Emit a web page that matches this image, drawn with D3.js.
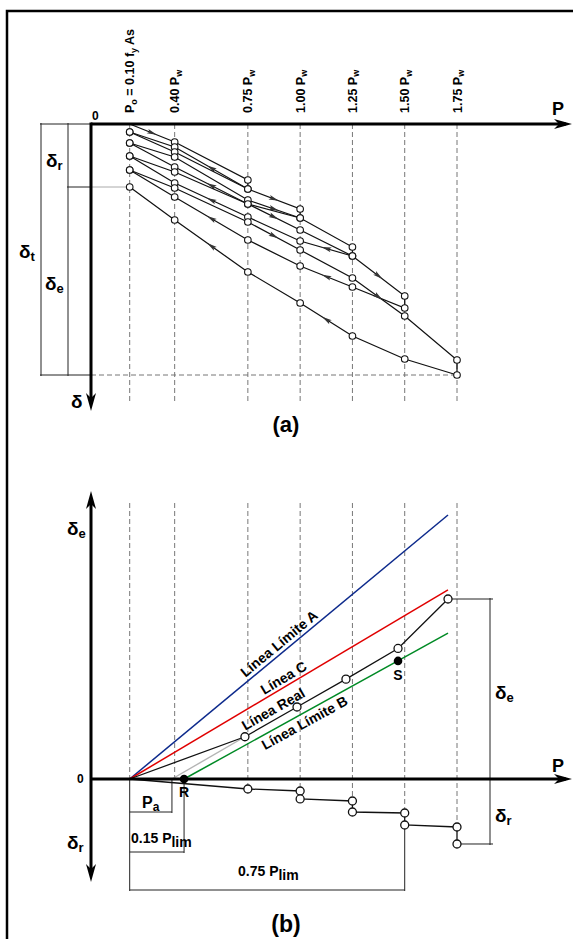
<!DOCTYPE html>
<html><head><meta charset="utf-8">
<script src="https://cdn.jsdelivr.net/npm/d3@7"></script>
<style>
html,body{margin:0;padding:0;background:#fff;}
svg{display:block;font-family:"Liberation Sans",Arial,Helvetica,sans-serif;font-weight:bold;}
</style></head><body>
<svg id="fig" width="573" height="939"></svg>
<script>
// Load steps as a fraction of the working load Pw (first step is the seating load P0)
const loadLevels = [0.185, 0.40, 0.75, 1.00, 1.25, 1.50, 1.75];
const loadLabels = ["P_o = 0.10 f_y As", "0.40 P_w", "0.75 P_w", "1.00 P_w", "1.25 P_w", "1.50 P_w", "1.75 P_w"];

// (a) load-unload cycles: applied load and measured deflection (mm)
const cycle1Load = [0.185, 0.40, 0.75, 0.75, 0.40, 0.185];
const cycle1Defl = [0, 1.8, 5.6, 6.5, 2.3, 0.8];
const cycle1Arrows = [0, 3];

const cycle2Load = [0.185, 0.40, 0.75, 1.00, 1.00, 0.75, 0.40, 0.185];
const cycle2Defl = [0.8, 2.8, 6.5, 8.5, 9.4, 8.0, 4.3, 1.9];
const cycle2Arrows = [2, 5];

const cycle3Load = [0.185, 0.40, 0.75, 1.00, 1.25, 1.25, 1.00, 0.75, 0.40, 0.185];
const cycle3Defl = [1.9, 3.3, 7.6, 9.4, 12.3, 13.2, 11.7, 9.3, 5.9, 3.2];
const cycle3Arrows = [2, 5, 7];

const cycle4Load = [0.185, 0.40, 0.75, 1.00, 1.25, 1.50, 1.50, 1.25, 1.00, 0.75, 0.40, 0.185];
const cycle4Defl = [3.2, 4.8, 8.0, 10.6, 13.2, 17.2, 18.4, 16.3, 14.2, 11.6, 7.3, 4.6];
const cycle4Arrows = [2, 4, 7, 9];

const cycle5Load = [0.185, 0.40, 0.75, 1.00, 1.25, 1.50, 1.75, 1.75, 1.50, 1.25, 1.00, 0.75, 0.40, 0.185];
const cycle5Defl = [4.6, 6.4, 9.8, 12.6, 15.4, 19.2, 23.6, 25.1, 23.5, 21.2, 17.9, 14.8, 9.6, 6.3];
const cycle5Arrows = [2, 4, 9, 11];

// (b) elastic recovery (up) and residual settlement (down) versus load
const realLoad = [0.185, 0.736, 0.985, 1.219, 1.468, 1.707];
const realElastic = [0, 4.4, 7.5, 10.4, 13.6, 18.75];
const residualLoad = [0.185, 0.75, 1.00, 1.00, 1.25, 1.25, 1.50, 1.50, 1.75, 1.75];
const residualDefl = [0, 1.04, 1.25, 2.08, 2.29, 3.44, 3.54, 4.79, 5.0, 6.77];

const limitALoad = [0.185, 1.707], limitADefl = [0, 27.5];
const lineCLoad = [0.185, 1.707], lineCDefl = [0, 19.7];
const limitBLoad = [0.445, 1.707], limitBDefl = [0, 15.2];
const guideLoad = [0.387, 0.736], guideDefl = [0, 4.4];
const pointR = [0.445, 0];
const pointS = [1.468, 12.3];
const paLoad = 0.387, plim15Load = 0.445, plim75Load = 1.50;

const svg = d3.select("#fig");
const xS = d3.scaleLinear().domain([0, 1.75]).range([91, 457]);
const yA = d3.scaleLinear().domain([0, 25.1]).range([124, 375]);
const yB = d3.scaleLinear().domain([0, 10]).range([779, 683]);

const axisX = xS(0);
const line = d3.line();

// text with "_x" subscripts
function rich(sel, str, size, subSize, shift) {
  const parts = str.split(/_(\w+)/);
  sel.attr("font-size", size);
  let down = false;
  parts.forEach((p, i) => {
    if (p === "") { return; }
    const t = sel.append("tspan").text(p);
    if (i % 2 === 1) {
      t.attr("font-size", subSize).attr("dy", down ? 0 : shift);
      down = true;
    } else {
      if (down) t.attr("dy", -shift);
      down = false;
    }
  });
  return sel;
}
function label(g, x, y, str, size, subSize, shift, anchor) {
  const t = g.append("text").attr("x", x).attr("y", y).attr("text-anchor", anchor || "start");
  return rich(t, str, size, subSize, shift);
}
function axisHead(g, x, y, angle) {
  g.append("path").attr("d", "M0,0 L-18,-5 L-13,0 L-18,5 Z")
    .attr("transform", `translate(${x},${y}) rotate(${angle})`).attr("fill", "#000");
}
function segArrow(g, x1, y1, x2, y2) {
  const a = Math.atan2(y2 - y1, x2 - x1) * 180 / Math.PI;
  g.append("path").attr("d", "M5,0 L-5,-2.4 L-3,0 L-5,2.4 Z")
    .attr("transform", `translate(${(x1 + x2) / 2},${(y1 + y2) / 2}) rotate(${a})`)
    .attr("fill", "#333");
}
function seg(g, x1, y1, x2, y2, color, w, dash) {
  const l = g.append("line").attr("x1", x1).attr("y1", y1).attr("x2", x2).attr("y2", y2)
    .attr("stroke", color).attr("stroke-width", w);
  if (dash) l.attr("stroke-dasharray", dash);
  return l;
}

// frame
svg.append("rect").attr("x", 7).attr("y", 11).attr("width", 700).attr("height", 1000)
  .attr("fill", "none").attr("stroke", "#000").attr("stroke-width", 2.5);

// ---------------- (a) ----------------
const gA = svg.append("g");
const dMax = d3.max(cycle5Defl);
const dRes = cycle5Defl[cycle5Defl.length - 1];

loadLevels.forEach(p => seg(gA, xS(p), yA(0), xS(p), 402, "#777", 1, "5,3"));
seg(gA, axisX, yA(dMax), xS(1.75), yA(dMax), "#777", 1, "5,3");

// dimension lines for total, residual and elastic settlement
seg(gA, 40, yA(0), axisX, yA(0), "#222", 1);
seg(gA, 40, yA(dMax), axisX, yA(dMax), "#222", 1);
seg(gA, 67, yA(dRes), axisX, yA(dRes), "#222", 1);
seg(gA, axisX, yA(dRes), xS(loadLevels[0]), yA(dRes), "#aaa", 1);
seg(gA, 41, yA(0) - 1, 41, yA(dMax) + 1, "#222", 1);
seg(gA, 68, yA(0) - 1, 68, yA(dMax) + 1, "#222", 1);

const cycles = [
  [cycle1Load, cycle1Defl, cycle1Arrows],
  [cycle2Load, cycle2Defl, cycle2Arrows],
  [cycle3Load, cycle3Defl, cycle3Arrows],
  [cycle4Load, cycle4Defl, cycle4Arrows],
  [cycle5Load, cycle5Defl, cycle5Arrows]
];
cycles.forEach(([L, D, A]) => {
  const pts = L.map((p, i) => [xS(p), yA(D[i])]);
  gA.append("path").attr("d", line(pts)).attr("fill", "none").attr("stroke", "#111").attr("stroke-width", 1.25);
  A.forEach(k => segArrow(gA, pts[k][0], pts[k][1], pts[k + 1][0], pts[k + 1][1]));
});
cycles.forEach(([L, D], ci) => {
  L.forEach((p, i) => {
    if (ci === 0 && i === 0) return;
    gA.append("circle").attr("cx", xS(p)).attr("cy", yA(D[i])).attr("r", 3.3)
      .attr("fill", "#fff").attr("stroke", "#111").attr("stroke-width", 1.1);
  });
});

// axes
seg(gA, axisX, yA(0), 566, yA(0), "#000", 3);
axisHead(gA, 572, yA(0), 0);
seg(gA, axisX, yA(0) - 1.5, axisX, 404, "#000", 3);
axisHead(gA, axisX, 411, 90);

loadLevels.forEach((p, i) => {
  const t = gA.append("text").attr("transform", `translate(${xS(p) + 4.5},113) rotate(-90)`);
  rich(t, loadLabels[i], 12.5, 9, 2.5);
});
label(gA, 92, 120, "0", 12, 9, 0);
label(gA, 552, 115, "P", 18, 12, 0);
label(gA, 46, 167, "δ_r", 19, 13, 3);
label(gA, 19, 258, "δ_t", 19, 13, 3);
label(gA, 45, 290, "δ_e", 19, 13, 3);
label(gA, 71, 408, "δ", 19, 13, 3);
label(gA, 286, 432, "(a)", 22, 14, 0, "middle");

// ---------------- (b) ----------------
const gB = svg.append("g");
const resTop = residualLoad.map((p, i) => [p, residualDefl[i]]);
loadLevels.forEach(p => {
  const first = resTop.find(r => Math.abs(r[0] - p) < 1e-6 && r[1] > 0);
  const yEnd = first ? yB(-first[1]) : yB(0);
  seg(gB, xS(p), 503, xS(p), yEnd, "#777", 1, "5,3");
});

// reference lines from the seating load
seg(gB, xS(guideLoad[0]), yB(guideDefl[0]), xS(guideLoad[1]), yB(guideDefl[1]), "#b4b4b4", 1.4);
seg(gB, xS(limitALoad[0]), yB(limitADefl[0]), xS(limitALoad[1]), yB(limitADefl[1]), "#0d2a8c", 1.5);
seg(gB, xS(lineCLoad[0]), yB(lineCDefl[0]), xS(lineCLoad[1]), yB(lineCDefl[1]), "#e00000", 1.5);
seg(gB, xS(limitBLoad[0]), yB(limitBDefl[0]), xS(limitBLoad[1]), yB(limitBDefl[1]), "#008a25", 1.5);

// dimension lines
const xLast = xS(realLoad[realLoad.length - 1]);
const eLast = realElastic[realElastic.length - 1];
const rLast = residualDefl[residualDefl.length - 1];
seg(gB, xLast, yB(eLast), 493, yB(eLast), "#222", 1);
seg(gB, xS(1.75), yB(-rLast), 493, yB(-rLast), "#222", 1);
seg(gB, 490, yB(eLast) - 1, 490, yB(-rLast) + 1, "#222", 1);
seg(gB, xS(loadLevels[0]), yB(0), xS(loadLevels[0]), 891, "#222", 1);
seg(gB, xS(loadLevels[0]), 812, xS(paLoad), 812, "#222", 1);
seg(gB, xS(paLoad), yB(0), xS(paLoad), 813, "#222", 1);
seg(gB, xS(loadLevels[0]), 852, xS(plim15Load), 852, "#222", 1);
seg(gB, xS(plim15Load), yB(0), xS(plim15Load), 853, "#222", 1);
seg(gB, xS(loadLevels[0]), 890, xS(plim75Load), 890, "#222", 1);
seg(gB, xS(plim75Load), yB(-residualDefl[7]), xS(plim75Load), 891, "#222", 1);

// measured elastic line and residual line
const realPts = realLoad.map((p, i) => [xS(p), yB(realElastic[i])]);
const resPts = residualLoad.map((p, i) => [xS(p), yB(-residualDefl[i])]);
gB.append("path").attr("d", line(realPts)).attr("fill", "none").attr("stroke", "#111").attr("stroke-width", 1.3);
gB.append("path").attr("d", line(resPts)).attr("fill", "none").attr("stroke", "#111").attr("stroke-width", 1.3);

// axes
seg(gB, axisX, yB(0), 566, yB(0), "#000", 3);
axisHead(gB, 572, yB(0), 0);
seg(gB, axisX, 498, axisX, 875, "#000", 3);
axisHead(gB, axisX, 491, -90);
axisHead(gB, axisX, 882, 90);

realPts.slice(1).concat(resPts.slice(1)).forEach(([cx, cy]) => {
  gB.append("circle").attr("cx", cx).attr("cy", cy).attr("r", 4)
    .attr("fill", "#fff").attr("stroke", "#111").attr("stroke-width", 1.3);
});
[pointR, pointS].forEach(([p, d]) => {
  gB.append("circle").attr("cx", xS(p)).attr("cy", yB(d)).attr("r", 4.3).attr("fill", "#000");
});

// line names written along the lines
function alongLabel(text, L, D, t, offset, size) {
  const x1 = xS(L[0]), y1 = yB(D[0]), x2 = xS(L[1]), y2 = yB(D[1]);
  const a = Math.atan2(y2 - y1, x2 - x1);
  const cx = x1 + (x2 - x1) * t, cy = y1 + (y2 - y1) * t;
  const nx = Math.sin(a), ny = -Math.cos(a);
  gB.append("text").attr("font-size", size).attr("text-anchor", "middle")
    .attr("transform", `translate(${cx + nx * offset},${cy + ny * offset}) rotate(${a * 180 / Math.PI})`)
    .text(text);
}
alongLabel("Línea Límite A", limitALoad, limitADefl, 0.487, 4, 14);
alongLabel("Línea C", lineCLoad, lineCDefl, 0.497, 3.5, 14);
alongLabel("Línea Real", [realLoad[1], realLoad[3]], [realElastic[1], realElastic[3]], 0.33, 5, 14);
alongLabel("Línea Límite B", limitBLoad, limitBDefl, 0.44, -14, 14);

label(gB, 552, 772, "P", 18, 12, 0);
label(gB, 77, 783, "0", 12, 9, 0);
label(gB, 67, 535, "δ_e", 19, 13, 3);
label(gB, 67, 849, "δ_r", 19, 13, 3);
label(gB, 495, 699, "δ_e", 19, 13, 3);
label(gB, 495, 822, "δ_r", 19, 13, 3);
label(gB, xS(pointR[0]), 797, "R", 14, 10, 0, "middle");
label(gB, xS(pointS[0]), 680, "S", 14, 10, 0, "middle");
label(gB, 142, 808, "P_a", 16, 12, 3);
label(gB, 131, 843, "0.15 P_lim", 14, 14, 4);
label(gB, 238, 876, "0.75 P_lim", 14, 14, 4);
label(gB, 286, 932, "(b)", 23, 14, 0, "middle");
</script>
</body></html>
